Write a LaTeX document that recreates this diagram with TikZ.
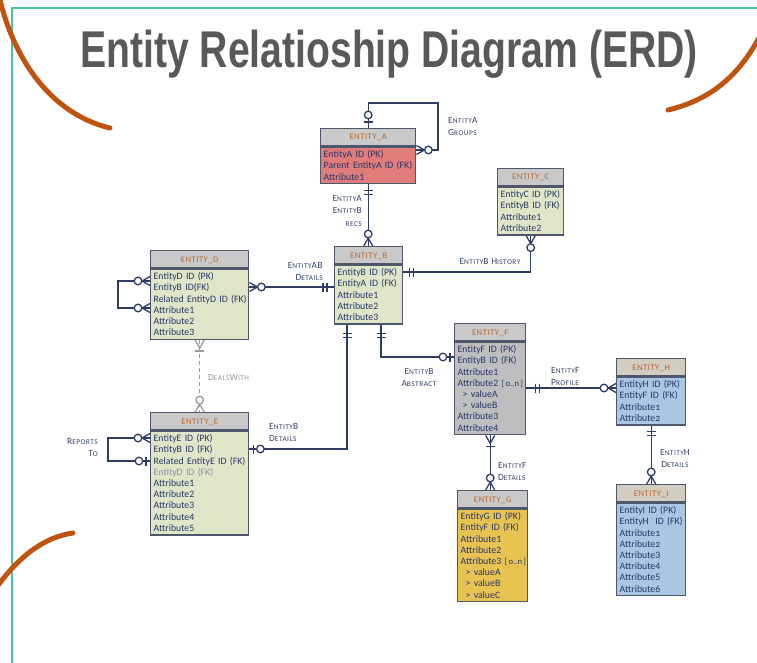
\documentclass[tikz,border=0pt]{standalone}
\usepackage{fontspec}
\setmainfont{Carlito}
\newfontfamily\titlefont{Liberation Sans}
\newfontfamily\lblfont[LetterSpace=6]{Carlito}
\newfontfamily\hdrfont[LetterSpace=6]{Carlito}
\newfontfamily\onum[Numbers=OldStyle]{Carlito}
\usetikzlibrary{calc}

\definecolor{frameteal}{HTML}{4CC3A6}
\definecolor{arcorange}{HTML}{C0540F}
\definecolor{titlegray}{HTML}{595959}
\definecolor{boxedge}{HTML}{4E586C}
\definecolor{hdrgray}{HTML}{C9C9C9}
\definecolor{hdrtan}{HTML}{D3CCC1}
\definecolor{hdrtext}{HTML}{B8692F}
\definecolor{rowtext}{HTML}{27386A}
\definecolor{linknavy}{HTML}{2F3C66}
\definecolor{lblnavy}{HTML}{36426E}
\definecolor{softgray}{HTML}{9A9A9A}
\definecolor{fadedrow}{HTML}{8A90AA}
\definecolor{fillred}{HTML}{E07C79}
\definecolor{fillgreen}{HTML}{DFE6C7}
\definecolor{fillgray}{HTML}{BEBEBE}
\definecolor{fillyellow}{HTML}{E8C352}
\definecolor{fillblue}{HTML}{A9C6E3}

% small capitals for relationship labels
\newcommand\sm[1]{{\fontsize{7.4}{8}\selectfont #1}}
% multiplicity brackets inside attribute rows
\newcommand\bracket[1]{{\fontsize{8.6}{11}\selectfont[\,#1\,]}}

% entity: name, position, width, title, header fill, body fill, rows
\newcommand\entity[7]{%
  \pgfmathsetmacro\erdtw{#3-6}%
  \node[hdr, fill=#5, minimum width=#3] (#1) at #2 {#4};
  \node[rows, fill=#6, text width=\erdtw pt] (#1b) at (#1.south west) {#7};
}

% cardinality symbols, drawn in a frame whose x axis points away from the entity
\newcommand\erdend[4][]{\begin{scope}[shift={#2},rotate=#3,color=linknavy,line width=1.3pt,#1]#4\end{scope}}
\newcommand\ecrow{\draw (0,-4.5) -- (8,0) -- (0,4.5);}
\newcommand\ebar[1]{\draw (#1,-4.5) -- (#1,4.5);}
\newcommand\ering[1]{\draw[fill=white] (#1,0) circle[radius=3.8];}

\tikzset{
  hdr/.style={draw=boxedge, line width=1.4pt, minimum height=17pt, inner sep=0pt,
    text height=5.6pt, text depth=0pt,
    font=\hdrfont\fontsize{8.6}{9}\selectfont, text=hdrtext, anchor=north west},
  rows/.style={draw=boxedge, line width=1.4pt, inner xsep=3pt, inner ysep=3.5pt,
    align=left, font=\fontsize{9.8}{11.2}\selectfont, text=rowtext, anchor=north west},
  link/.style={draw=linknavy, line width=1.3pt},
  lbl/.style={inner sep=0pt, font=\lblfont\fontsize{9.4}{12.5}\selectfont, text=lblnavy},
}

\begin{document}
\begin{tikzpicture}[x=1pt,y=-1pt]
\useasboundingbox[fill=white] (0,0) rectangle (757,663);

% frame and decorative strokes
\draw[frameteal, line width=2pt] (12,663) -- (12,8) -- (758,8);
\draw[arcorange, line width=5pt, line cap=round] (-1,-4) .. controls (15,65) and (55,115) .. (110,128);
\draw[arcorange, line width=5pt, line cap=round] (762,32) .. controls (740,76) and (710,100) .. (668,110);
\draw[arcorange, line width=5pt, line cap=round] (-4,588) .. controls (20,555) and (45,537) .. (73,533);

\node[font=\titlefont\bfseries\fontsize{51.7}{60}\selectfont, text=titlegray, inner sep=0pt, anchor=base]
  (title) at (389,68) {\scalebox{0.757}[1]{Entity Relatioship Diagram (ERD)}};

% entities
\entity{A}{(320,128)}{95}{ENTITY\_A}{hdrgray}{fillred}
  {EntityA ID (PK)\\\mbox{Parent EntityA ID (FK)}\\Attribute1}
\entity{B}{(334,246)}{68}{ENTITY\_B}{hdrgray}{fillgreen}
  {EntityB ID (PK)\\EntityA ID (FK)\\Attribute1\\Attribute2\\Attribute3}
\entity{C}{(497,168)}{66}{ENTITY\_C}{hdrgray}{fillgreen}
  {EntityC ID (PK)\\EntityB ID (FK)\\Attribute1\\Attribute2}
\entity{D}{(150,250)}{98}{ENTITY\_D}{hdrgray}{fillgreen}
  {EntityD ID (PK)\\EntityB ID(FK)\\\mbox{Related EntityD ID (FK)}\\Attribute1\\Attribute2\\Attribute3}
\entity{E}{(150,412)}{98}{ENTITY\_E}{hdrgray}{fillgreen}
  {EntityE ID (PK)\\EntityB ID (FK)\\\mbox{Related EntityE ID (FK)}\\{\color{fadedrow}EntityD ID (FK)}\\Attribute1\\Attribute2\\Attribute3\\Attribute4\\Attribute5}
\entity{F}{(454,323)}{71}{ENTITY\_F}{hdrgray}{fillgray}
  {EntityF ID (PK)\\EntityB ID (FK)\\Attribute1\\\mbox{Attribute2 \bracket{o..n}}\\\ \,> valueA\\\ \,> valueB\\Attribute3\\Attribute4}
\entity{G}{(457,490)}{70}{ENTITY\_G}{hdrgray}{fillyellow}
  {EntityG ID (PK)\\EntityF ID (FK)\\Attribute1\\Attribute2\\\mbox{Attribute3 \bracket{o..n}}\\\ \,> valueA\\\ \,> valueB\\\ \,> valueC}
\entity{H}{(616,358)}{69}{ENTITY\_H}{hdrtan}{fillblue}
  {EntityH ID (PK)\\EntityF ID (FK)\\Attribute{\onum 1}\\Attribute{\onum 2}}
\entity{I}{(616,484)}{69}{ENTITY\_I}{hdrtan}{fillblue}
  {EntityI ID (PK)\\EntityH~ ID (FK)\\Attribute{\onum 1}\\Attribute{\onum 2}\\Attribute3\\Attribute4\\Attribute5\\Attribute6}

% attachment points
\coordinate (aLoop) at (438,103);
\coordinate (aIn) at (Ab.east |- 0,150);
\coordinate (bOut) at (Bb.east |- 0,272);
\coordinate (dOut) at (Db.east |- 0,287);
\coordinate (dS1) at (Db.west |- 0,281);
\coordinate (dS2) at (Db.west |- 0,308);
\coordinate (dLoop) at (118,281);
\coordinate (eS1) at (Eb.west |- 0,438);
\coordinate (eS2) at (Eb.west |- 0,461);
\coordinate (eLoop) at (108,438);
\coordinate (eOut) at (Eb.east |- 0,449);
\coordinate (bIn1) at ($(Bb.south west)+(13,0)$);
\coordinate (bIn2) at ($(Bb.south west)+(47,0)$);
\coordinate (fIn) at (Fb.west |- 0,357);
\coordinate (fOut) at (Fb.east |- 0,388);

% relationships
\draw[link] (A.north) |- (aLoop) |- (aIn);
\draw[link] (Ab.south) -- (Ab.south |- B.north);
\draw[link] (bOut) -| (Cb.south);
\draw[link] (dOut) -- (Bb.west |- dOut);
\draw[link] (dS1) -- (dLoop) |- (dS2);
\draw[link, draw=softgray, dash pattern=on 4pt off 3pt] (Db.south) -- (Db.south |- E.north);
\draw[link] (eS1) -- (eLoop) |- (eS2);
\draw[link] (eOut) -| (bIn1);
\draw[link] (bIn2) |- (fIn);
\draw[link] (fOut) -- (Hb.west |- fOut);
\draw[link] (Hb.south) -- (Hb.south |- I.north);
\draw[link] (Fb.south) -- (Fb.south |- G.north);

% cardinalities
\erdend{(A.north)}{90}{\ebar{6}\ering{13}}
\erdend{(aIn)}{0}{\ecrow\ering{12}}
\erdend{(Ab.south)}{-90}{\ebar{6}\ebar{10}}
\erdend{(Ab.south |- B.north)}{90}{\ecrow\ering{12}}
\erdend{(bOut)}{0}{\ebar{6}\ebar{10}}
\erdend{(Cb.south)}{-90}{\ecrow\ering{12}}
\erdend{(dOut)}{0}{\ecrow\ering{12}}
\erdend{(Bb.west |- dOut)}{180}{\ebar{7}\ebar{11}}
\erdend{(dS1)}{180}{\ecrow\ering{12}}
\erdend{(dS2)}{180}{\ecrow\ering{12}}
\erdend[color=softgray]{(Db.south)}{-90}{\ecrow\ebar{11}}
\erdend[color=softgray]{(Db.south |- E.north)}{90}{\ecrow\ering{12}}
\erdend{(eS1)}{180}{\ecrow\ering{12}}
\erdend{(eS2)}{180}{\ebar{4}\ering{11}}
\erdend{(eOut)}{0}{\ebar{4}\ering{11}}
\erdend{(bIn1)}{-90}{\ebar{9}\ebar{13}}
\erdend{(bIn2)}{-90}{\ebar{9}\ebar{13}}
\erdend{(fIn)}{180}{\ebar{4}\ering{11}}
\erdend{(fOut)}{0}{\ebar{9}\ebar{13}}
\erdend{(Hb.west |- fOut)}{180}{\ecrow\ering{12}}
\erdend{(Hb.south)}{-90}{\ebar{6}\ebar{10}}
\erdend{(Hb.south |- I.north)}{90}{\ecrow\ering{12}}
\erdend{(Fb.south)}{-90}{\ecrow\ebar{11}}
\erdend{(Fb.south |- G.north)}{90}{\ecrow\ering{12}}

% relationship labels
\node[lbl, anchor=north west, align=left] (lGroups) at (448,117) {E\sm{NTITY}A\\G\sm{ROUPS}};
\node[lbl, anchor=north east, align=right] (lRecs) at (362,195) {E\sm{NTITY}A\\E\sm{NTITY}B\\\sm{RECS}};
\node[lbl, anchor=center] (lHistory) at (490,262) {E\sm{NTITY}B H\sm{ISTORY}};
\node[lbl, anchor=north east, align=right] (lAB) at (323,262) {E\sm{NTITY}AB\\D\sm{ETAILS}};
\node[lbl, anchor=west, text=softgray] (lDeals) at (208,378) {D\sm{EALS}W\sm{ITH}};
\node[lbl, anchor=north east, align=right] (lReports) at (98,438) {R\sm{EPORTS}\\T\sm{O}};
\node[lbl, anchor=north west, align=left] (lBDetails) at (269,423) {E\sm{NTITY}B\\D\sm{ETAILS}};
\node[lbl, anchor=north, align=center] (lAbstract) at (419,368) {E\sm{NTITY}B\\A\sm{BSTRACT}};
\node[lbl, anchor=north west, align=left] (lProfile) at (551,367) {E\sm{NTITY}F\\P\sm{ROFILE}};
\node[lbl, anchor=north, align=center] (lHDetails) at (675,449) {E\sm{NTITY}H\\D\sm{ETAILS}};
\node[lbl, anchor=north west, align=left] (lFDetails) at (498,462) {E\sm{NTITY}F\\D\sm{ETAILS}};
\end{tikzpicture}
\end{document}
